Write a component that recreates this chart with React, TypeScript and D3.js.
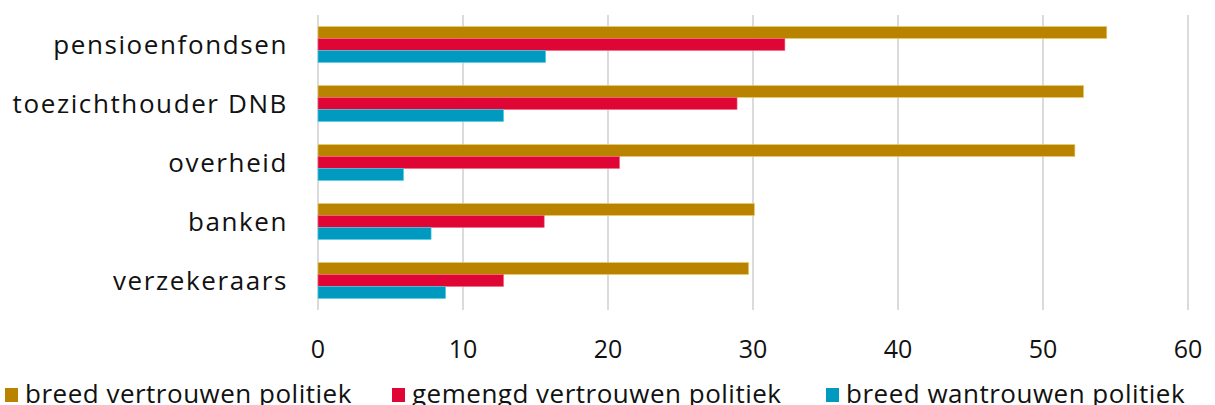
import React, { useEffect, useRef } from 'react';
import * as d3 from 'd3';

const categories = ['pensioenfondsen', 'toezichthouder DNB', 'overheid', 'banken', 'verzekeraars'];
const seriesNames = ['breed vertrouwen politiek', 'gemengd vertrouwen politiek', 'breed wantrouwen politiek'];
const breedVertrouwen = [54.4, 52.8, 52.2, 30.1, 29.7];
const gemengdVertrouwen = [32.2, 28.9, 20.8, 15.6, 12.8];
const breedWantrouwen = [15.7, 12.8, 5.9, 7.8, 8.8];
const xTicks = [0, 10, 20, 30, 40, 50, 60];

const colors = ['#b98300', '#df0535', '#009ac0'];
const strokes = ['#e6cf6a', '#f06a80', '#4fd0e8'];

const width = 1215;
const height = 405;
const font = "'Open Sans', 'Noto Sans', sans-serif";

const App: React.FC = () => {
  const svgRef = useRef<SVGSVGElement | null>(null);

  useEffect(() => {
    if (!svgRef.current) return;
    const svg = d3.select(svgRef.current);
    svg.selectAll('*').remove();

    const left = 318;
    const right = 1188;
    const top = 15;
    const bottom = 310;

    const x = d3.scaleLinear().domain([0, 60]).range([left, right]);
    const y = d3
      .scaleBand<string>()
      .domain(categories)
      .range([top, bottom])
      .paddingInner(0.39)
      .paddingOuter(0.195);
    const inner = d3.scaleBand<number>().domain([0, 1, 2]).range([0, y.bandwidth()]);

    const series = [breedVertrouwen, gemengdVertrouwen, breedWantrouwen];

    // grid
    svg
      .append('g')
      .selectAll('line')
      .data(xTicks)
      .join('line')
      .attr('x1', d => x(d))
      .attr('x2', d => x(d))
      .attr('y1', top)
      .attr('y2', bottom)
      .attr('stroke', '#cfcfcf')
      .attr('stroke-width', 1.5);

    // bars
    series.forEach((values, si) => {
      svg
        .append('g')
        .selectAll('rect')
        .data(values)
        .join('rect')
        .attr('x', x(0))
        .attr('y', (_, i) => (y(categories[i]) ?? 0) + (inner(si) ?? 0))
        .attr('width', d => x(d) - x(0))
        .attr('height', inner.bandwidth())
        .attr('fill', colors[si])
        .attr('stroke', strokes[si])
        .attr('stroke-width', 0.6);
    });

    // category labels
    svg
      .append('g')
      .selectAll('text')
      .data(categories)
      .join('text')
      .attr('x', 288)
      .attr('y', d => (y(d) ?? 0) + y.bandwidth() / 2)
      .attr('dy', '0.37em')
      .attr('text-anchor', 'end')
      .attr('font-family', font)
      .attr('font-size', 26)
      .attr('letter-spacing', 1.6)
      .attr('fill', '#111')
      .text(d => d);

    // x tick labels
    svg
      .append('g')
      .selectAll('text')
      .data(xTicks)
      .join('text')
      .attr('x', d => x(d))
      .attr('y', 358)
      .attr('text-anchor', 'middle')
      .attr('font-family', font)
      .attr('font-size', 25)
      .attr('fill', '#111')
      .text(d => String(d));

    // legend
    const legendX = [5, 392, 826];
    const legend = svg
      .append('g')
      .selectAll('g')
      .data(seriesNames)
      .join('g')
      .attr('transform', (_, i) => `translate(${legendX[i]},0)`);
    legend
      .append('rect')
      .attr('x', 0)
      .attr('y', 388)
      .attr('width', 13)
      .attr('height', 14)
      .attr('fill', (_, i) => colors[i]);
    legend
      .append('text')
      .attr('x', 20)
      .attr('y', 403)
      .attr('font-family', font)
      .attr('font-size', 26)
      .attr('letter-spacing', 0.5)
      .attr('fill', '#111')
      .text(d => d);
  }, []);

  return (
    <div style={{ position: 'fixed', left: 0, top: 0 }}>
      <svg ref={svgRef} width={width} height={height} style={{ display: 'block', background: '#fff' }} />
    </div>
  );
};

export default App;
